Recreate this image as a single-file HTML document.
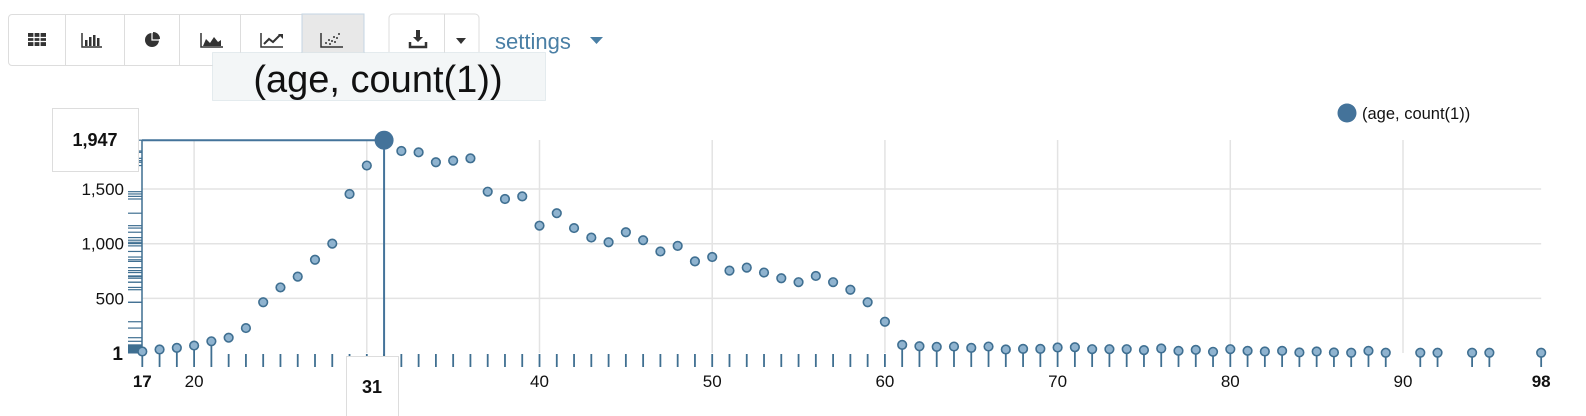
<!DOCTYPE html>
<html><head><meta charset="utf-8"><style>
body{margin:0;width:1586px;height:416px;background:#fff;font-family:"Liberation Sans",sans-serif;overflow:hidden;position:relative}
</style></head><body>
<div style="position:absolute;left:8px;top:14px;width:356px;height:52px;border:1px solid #ddd;border-radius:4px;box-sizing:border-box"></div>
<svg width="1586" height="416" style="position:absolute;left:0;top:0" id="svg">
<g id="tb" fill="#333">
<g><rect x="28" y="33" width="18" height="13" fill="#333"/><path d="M28 37.5h18M28 41.5h18M34 33v13M40 33v13" stroke="#fff" stroke-width="1.2"/></g>
<g><rect x="65" y="14" width="1" height="51" fill="#ddd"/><path d="M82 33v14h20" stroke="#333" stroke-width="1.5" fill="none"/><rect x="85" y="40" width="2.5" height="6"/><rect x="89" y="37" width="2.5" height="9"/><rect x="93" y="35" width="2.5" height="11"/><rect x="97" y="38" width="2.5" height="8"/></g>
<g><rect x="124" y="14" width="1" height="51" fill="#ddd"/><circle cx="152" cy="40" r="7"/><path d="M153 32a7 7 0 0 1 7 7h-7z" fill="#333"/><path d="M152 33v7h7" stroke="#fff" stroke-width="1.2" fill="none"/></g>
<g><rect x="179" y="14" width="1" height="51" fill="#ddd"/><path d="M201 33v14h22" stroke="#333" stroke-width="1.5" fill="none"/><path d="M203 46l3-7 4 4 4-6 4 5 3-2v6z"/></g>
<g><rect x="240" y="14" width="1" height="51" fill="#ddd"/><path d="M261 33v14h22" stroke="#333" stroke-width="1.5" fill="none"/><path d="M264 44l5-5 4 3 7-7" stroke="#333" stroke-width="2" fill="none"/><path d="M278 34h5v5z"/></g>
<g><rect x="302" y="14" width="62" height="51" fill="#e8e8e8" stroke="#c5d5e3"/><path d="M321 33v14h22" stroke="#333" stroke-width="1.5" fill="none"/><circle cx="326" cy="43" r="1"/><circle cx="329" cy="40" r="1"/><circle cx="332" cy="41" r="1"/><circle cx="334" cy="37" r="1"/><circle cx="337" cy="38" r="1"/><circle cx="339" cy="34" r="1"/><circle cx="330" cy="44" r="1"/><circle cx="335" cy="42" r="1"/></g>
<g><rect x="389" y="14" width="90" height="52" rx="4" fill="#fff" stroke="#ddd"/><rect x="444" y="14" width="1" height="52" fill="#ddd"/><path d="M416 30h4v7h3l-5 5-5-5h3z"/><path d="M410 42v5h16v-5" stroke="#333" stroke-width="2.5" fill="none"/><path d="M456 38h10l-5 6z"/></g>
</g>
<text x="495" y="49" font-size="22" fill="#4a7fa5">settings</text>
<path d="M590 37h13l-6.5 7z" fill="#4a7fa5"/>
<g><rect x="212.5" y="52.5" width="333" height="48" fill="#f3f6f7" stroke="#cfdbe0" stroke-dasharray="1 1"/><text x="378" y="92" text-anchor="middle" font-size="38" fill="#111">(age, count(1))</text></g>
<g><circle cx="1347" cy="113" r="9.5" fill="#44739a"/><text x="1362" y="119" font-size="16.5" fill="#111">(age, count(1))</text></g>
<g id="grid"></g><g id="plot"></g>
</svg>
<script>
const ages=[17,18,19,20,21,22,23,24,25,26,27,28,29,30,31,32,33,34,35,36,37,38,39,40,41,42,43,44,45,46,47,48,49,50,51,52,53,54,55,56,57,58,59,60,61,62,63,64,65,66,67,68,69,70,71,72,73,74,75,76,77,78,79,80,81,82,83,84,85,86,87,88,89,91,92,94,95,98];
const counts=[14,32,47,68,107,140,228,464,600,699,853,1001,1455,1715,1947,1848,1836,1745,1760,1781,1476,1409,1433,1165,1279,1143,1056,1013,1105,1032,929,980,838,878,754,781,736,684,648,705,648,579,464,286,74,62,56,59,47,59,32,38,38,50,53,35,35,35,26,41,20,29,11,35,20,14,20,5,14,5,2,20,2,2,2,2,2,2];
const yTicks=[500,1000,1500];
const yTickLabels=["500","1,000","1,500"];
const xTicks=[20,40,50,60,70,80,90];
const xGrid=[20,30,40,50,60,70,80,90];
const hoverIndex=14;
const NS="http://www.w3.org/2000/svg";
const X=a=>142.3+(a-17)*17.27;
const Y=v=>353-v*0.1093;
const g=document.getElementById('grid'),p=document.getElementById('plot');
function mk(par,t,at){const e=document.createElementNS(NS,t);for(const k in at)e.setAttribute(k,at[k]);par.appendChild(e);return e;}
const xmax=X(98);
yTicks.forEach((v,i)=>{
 const l=mk(g,'line',{x1:142,x2:xmax,y1:Y(v),y2:Y(v),stroke:'#e3e3e3','stroke-width':1.5});
 
 
 const t=mk(g,'text',{x:124,y:Y(v)+6,'text-anchor':'end','font-size':17,fill:'#111'});t.textContent=yTickLabels[i];
 
 
});
xGrid.forEach(a=>{const l=mk(g,'line',{x1:X(a),x2:X(a),y1:140,y2:353,stroke:'#e3e3e3','stroke-width':1.5});
 
 });
xTicks.forEach(a=>{const t=mk(g,'text',{x:X(a),y:387,'text-anchor':'middle','font-size':17,fill:'#111'});t.textContent=a;
 
 });
let t=mk(g,'text',{x:X(17),y:387,'text-anchor':'middle','font-size':17,'font-weight':'bold',fill:'#111'});t.textContent=ages[0];


t=mk(g,'text',{x:X(98),y:387,'text-anchor':'middle','font-size':17,'font-weight':'bold',fill:'#111'});t.textContent=ages[ages.length-1];


t=mk(g,'text',{x:123,y:360,'text-anchor':'end','font-size':19,'font-weight':'bold',fill:'#111'});t.textContent='1';


counts.forEach(v=>{const l=mk(p,'line',{x1:128,x2:142,y1:Y(v),y2:Y(v),stroke:'#3f6f91','stroke-width':1.2});
 
 });
mk(p,'line',{x1:142,x2:142,y1:140,y2:353,stroke:'#3f6f91','stroke-width':1.5});
const hx=X(ages[hoverIndex]),hy=Y(counts[hoverIndex]);
mk(p,'line',{x1:142,x2:hx,y1:hy,y2:hy,stroke:'#44739a','stroke-width':2});
mk(p,'line',{x1:hx,x2:hx,y1:hy,y2:370,stroke:'#44739a','stroke-width':2});
ages.forEach((a,i)=>{
 const x=X(a),y=Y(counts[i]);
 const tk=mk(p,'line',{x1:x,x2:x,y1:(y>338?y:354),y2:367,stroke:'#3f6f91','stroke-width':1.8});
 
 
 if(i===hoverIndex)return;
 const c=mk(p,'circle',{cx:x,cy:y,r:4.3,fill:'#8fb3cf',stroke:'#3f6f91','stroke-width':1.6});
 
 
});
const hc=mk(p,'circle',{cx:hx,cy:hy,r:9.5,fill:'#44739a'});


let r=mk(p,'rect',{x:52.5,y:108.5,width:86,height:63,fill:'#fff',stroke:'#ddd'});


t=mk(p,'text',{x:95,y:146,'text-anchor':'middle','font-size':18,'font-weight':'bold',fill:'#111'});t.textContent=counts[hoverIndex].toLocaleString('en-US');


r=mk(p,'rect',{x:346.5,y:356.5,width:52,height:70,fill:'#fff',stroke:'#ddd'});


t=mk(p,'text',{x:372,y:393,'text-anchor':'middle','font-size':18,'font-weight':'bold',fill:'#111'});t.textContent=ages[hoverIndex];


</script>
</body></html>
